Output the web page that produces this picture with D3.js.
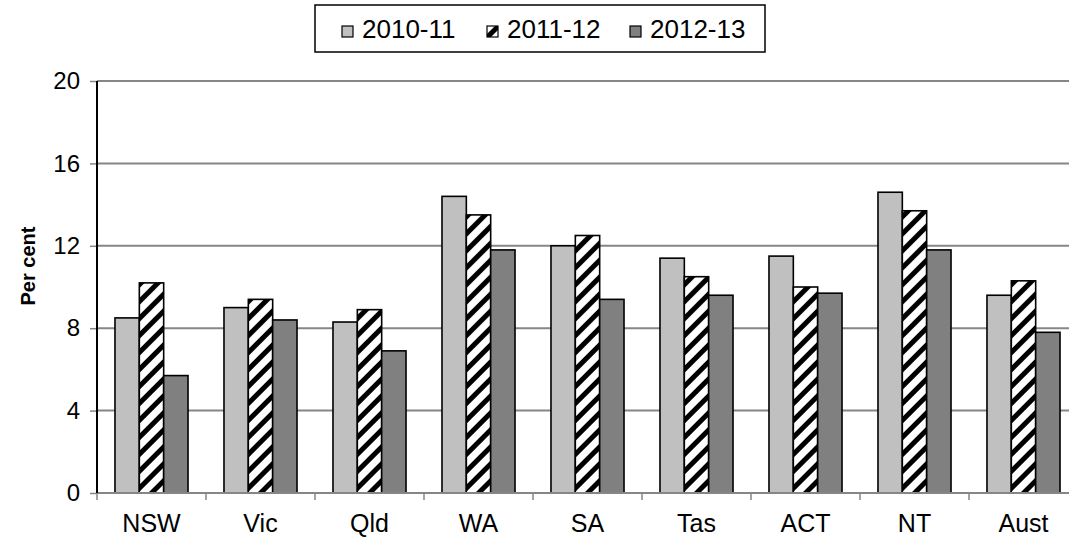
<!DOCTYPE html>
<html>
<head>
<meta charset="utf-8">
<script src="https://cdn.jsdelivr.net/npm/d3@7/dist/d3.min.js"></script>
<style>
  html, body { margin: 0; padding: 0; background: #fff; }
  svg { display: block; font-family: "Liberation Sans", Arial, sans-serif; }
</style>
</head>
<body>
<svg id="chart" width="1069" height="540"></svg>
<script>
// Categories (states/territories) and the three yearly series, in per cent
const categories = ["NSW", "Vic", "Qld", "WA", "SA", "Tas", "ACT", "NT", "Aust"];
const seriesNames = ["2010-11", "2011-12", "2012-13"];
const values2010_11 = [8.5, 9.0, 8.3, 14.4, 12.0, 11.4, 11.5, 14.6, 9.6];
const values2011_12 = [10.2, 9.4, 8.9, 13.5, 12.5, 10.5, 10.0, 13.7, 10.3];
const values2012_13 = [5.7, 8.4, 6.9, 11.8, 9.4, 9.6, 9.7, 11.8, 7.8];
const yTicks = [0, 4, 8, 12, 16, 20];

const seriesValues = [values2010_11, values2011_12, values2012_13];
const fills = ["#c0c0c0", "url(#hatch)", "#808080"];

const svg = d3.select("#chart");

// Diagonal hatch used by the 2011-12 series
const defs = svg.append("defs");
const pat = defs.append("pattern")
  .attr("id", "hatch")
  .attr("patternUnits", "userSpaceOnUse")
  .attr("width", 12).attr("height", 12)
  .attr("patternTransform", "rotate(45)");
pat.append("rect").attr("width", 12).attr("height", 12).attr("fill", "#fff");
pat.append("rect").attr("width", 5).attr("height", 12).attr("fill", "#000");

const plot = { left: 97, right: 1078, top: 81, bottom: 493 };

const x0 = d3.scaleBand()
  .domain(categories)
  .range([plot.left, plot.right])
  .paddingInner(0.33)
  .paddingOuter(0.165);

const x1 = d3.scaleBand()
  .domain(seriesNames)
  .range([0, x0.bandwidth()]);

const y = d3.scaleLinear()
  .domain([0, 20])
  .range([plot.bottom, plot.top]);

// Horizontal gridlines
svg.append("g")
  .selectAll("line")
  .data(yTicks.filter(t => t > 0))
  .join("line")
  .attr("x1", plot.left).attr("x2", 1069)
  .attr("y1", d => y(d)).attr("y2", d => y(d))
  .attr("stroke", "#868686")
  .attr("stroke-width", 2);

// Bars
const rows = categories.map((c, i) => ({ cat: c, vals: seriesNames.map((s, k) => ({ s, k, v: seriesValues[k][i] })) }));
svg.append("g")
  .selectAll("g")
  .data(rows)
  .join("g")
  .attr("transform", d => `translate(${x0(d.cat)},0)`)
  .selectAll("rect")
  .data(d => d.vals)
  .join("rect")
  .attr("x", d => x1(d.s))
  .attr("y", d => y(d.v))
  .attr("width", x1.bandwidth())
  .attr("height", d => y(0) - y(d.v))
  .attr("fill", d => fills[d.k])
  .attr("stroke", "#000")
  .attr("stroke-width", 1.6);

// X axis with ticks at category boundaries
const xAxisG = svg.append("g");
xAxisG.append("line")
  .attr("x1", plot.left).attr("x2", 1069)
  .attr("y1", plot.bottom).attr("y2", plot.bottom)
  .attr("stroke", "#868686").attr("stroke-width", 2);
const bounds = categories.map(c => x0(c) - x0.step() * x0.paddingOuter());
xAxisG.selectAll("line.tick")
  .data(bounds)
  .join("line")
  .attr("class", "tick")
  .attr("x1", d => d).attr("x2", d => d)
  .attr("y1", plot.bottom).attr("y2", plot.bottom + 7)
  .attr("stroke", "#868686").attr("stroke-width", 1.5);
xAxisG.selectAll("text")
  .data(categories)
  .join("text")
  .attr("x", d => x0(d) + x0.bandwidth() / 2)
  .attr("y", 532)
  .attr("text-anchor", "middle")
  .attr("font-size", 25)
  .attr("fill", "#000")
  .text(d => d);

// Y axis
const yAxis = d3.axisLeft(y).tickValues(yTicks).tickSize(7).tickPadding(10).tickFormat(d3.format("d"));
const yAxisG = svg.append("g")
  .attr("transform", `translate(${plot.left},0)`)
  .call(yAxis);
yAxisG.select(".domain").remove();
yAxisG.selectAll(".tick line").attr("stroke", "#868686").attr("stroke-width", 1.5);
yAxisG.selectAll(".tick text")
  .attr("font-size", 24)
  .attr("font-family", "Liberation Sans, Arial, sans-serif")
  .attr("fill", "#000");
yAxisG.append("line")
  .attr("x1", 0).attr("x2", 0)
  .attr("y1", plot.top).attr("y2", plot.bottom)
  .attr("stroke", "#000").attr("stroke-width", 2);

// Axis title
svg.append("text")
  .attr("transform", "translate(35,266) rotate(-90)")
  .attr("text-anchor", "middle")
  .attr("font-size", 20)
  .attr("font-weight", "bold")
  .attr("fill", "#000")
  .text("Per cent");

// Legend
const legend = svg.append("g");
legend.append("rect")
  .attr("x", 315).attr("y", 5)
  .attr("width", 450).attr("height", 47)
  .attr("fill", "#fff")
  .attr("stroke", "#000").attr("stroke-width", 1.5);
const legendX = [342, 487, 630];
const items = legend.selectAll("g.item")
  .data(seriesNames)
  .join("g")
  .attr("class", "item")
  .attr("transform", (d, i) => `translate(${legendX[i]},0)`);
items.append("rect")
  .attr("x", 0).attr("y", 26)
  .attr("width", 11).attr("height", 11)
  .attr("fill", (d, i) => fills[i])
  .attr("stroke", "#000").attr("stroke-width", 1.2);
items.append("text")
  .attr("x", 20).attr("y", 38)
  .attr("font-size", 26)
  .attr("fill", "#000")
  .text(d => d);
</script>
</body>
</html>
